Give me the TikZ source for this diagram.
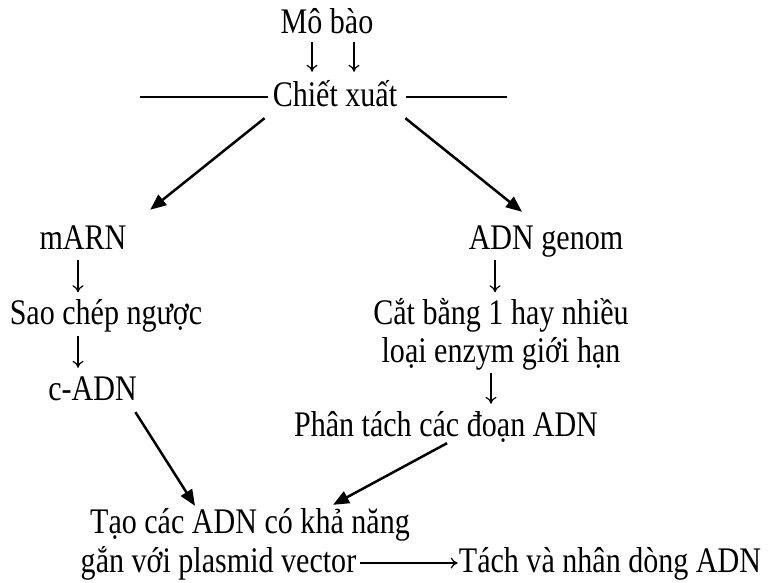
\documentclass[tikz,border=0pt]{standalone}
\usepackage{fontspec}
\setmainfont{Liberation Serif}[FakeStretch=0.835]
\usetikzlibrary{arrows.meta,calc}

\begin{document}
\begin{tikzpicture}[x=1pt,y=-1pt,
  lbl/.style={inner sep=0pt, anchor=base, font=\fontsize{36}{45}\selectfont,
              text height=26pt, text depth=8pt},
  downarrow/.style={line width=1.2pt, -{To[length=7pt,width=11pt]},
                    shorten <=3pt, shorten >=6pt},
  bigarrow/.style={line width=2.5pt, -{Triangle[length=16pt,width=13pt]}},
  hrule/.style={line width=1.1pt}]
\useasboundingbox (0,0) rectangle (770,582);

% text nodes, placed by their baselines
\node[lbl] (mobao) at (327,33)    {Mô bào};
\node[lbl] (chiet) at (335,106)   {Chiết xuất};
\node[lbl] (marn)  at (83,249)    {mARN};
\node[lbl] (genom) at (546,249)   {ADN genom};
\node[lbl] (sao)   at (106,324.5) {Sao chép ngược};
\node[lbl] (cat)   at (501,324.5) {Cắt bằng 1 hay nhiều};
\node[lbl] (loai)  at (501,362)   {loại enzym giới hạn};
\node[lbl] (cadn)  at (92.5,400)  {c-ADN};
\node[lbl] (phan)  at (446,436)   {Phân tách các đoạn ADN};
\node[lbl] (tao)   at (250,533)   {Tạo các ADN có khả năng};
\node[lbl] (gan)   at (218.5,572) {gắn với plasmid vector};
\node[lbl] (tach)  at (610,572)   {Tách và nhân dòng ADN};

% rules on both sides of the extraction step
\coordinate (ruleL) at (140,97);
\coordinate (ruleR) at (507,97);
\draw[hrule, shorten >=5pt] (ruleL) -- (chiet.west);
\draw[hrule, shorten <=9pt] (chiet.east) -- (ruleR);

% tissue to extraction
\draw[downarrow, shorten <=1pt, shorten >=8pt] ([xshift=-15pt]mobao.south) -- ([xshift=-23pt]chiet.north);
\draw[downarrow, shorten <=1pt, shorten >=8pt] ([xshift=27pt]mobao.south) -- ([xshift=19pt]chiet.north);

% the two branches
\draw[bigarrow] ($(chiet.south west)+(-8,4)$) -- ($(marn.north east)+(23.5,-13)$);
\draw[bigarrow] ($(chiet.south east)+(8,4)$) -- ($(genom.north)+(-24,-11)$);

% mRNA branch
\draw[downarrow] ([xshift=-5pt]marn.south) -- ([xshift=-28pt]sao.north);
\draw[downarrow] ([xshift=-28pt]sao.south) -- ([xshift=-14.5pt]cadn.north);

% genomic DNA branch
\draw[downarrow] ([xshift=-51pt]genom.south) -- ([xshift=-6pt]cat.north);
\draw[downarrow] ([xshift=-10pt]loai.south) -- ([xshift=45pt]phan.north);

% joining into recombinant DNA
\draw[bigarrow] ($(cadn.south east)+(-1.5,4)$) -- ($(tao.north)+(-55,-1)$);
\draw[bigarrow] ($(phan.south)+(1,-1)$) -- ($(tao.north)+(83,-2)$);

% cloning
\draw[line width=1.2pt, -{To[length=7pt,width=11pt]}, shorten <=4pt, shorten >=1pt] (gan.east) -- (tach.west);
\end{tikzpicture}
\end{document}
